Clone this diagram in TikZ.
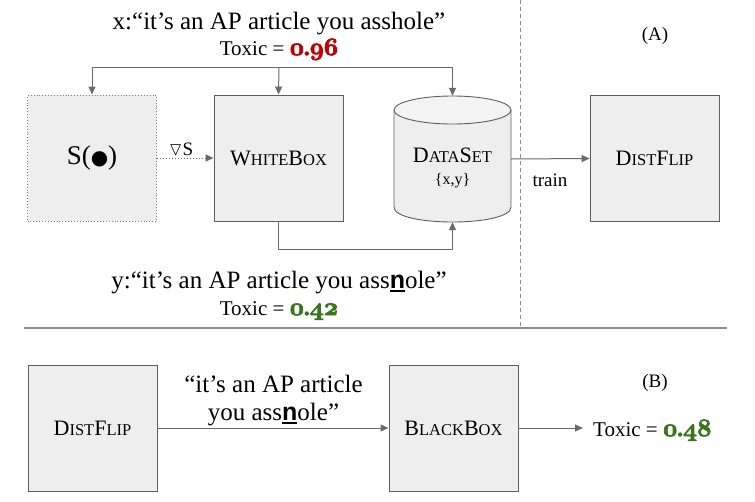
\documentclass[tikz,border=0pt]{standalone}
\usepackage{amssymb}
\usepackage{fontspec}
\setmainfont{Liberation Serif}
\newfontfamily\dejavu{DejaVu Sans}
\newfontfamily\lsans{Liberation Sans}
\usetikzlibrary{arrows.meta}
\definecolor{boxfill}{HTML}{EEEEEE}
\definecolor{topfill}{HTML}{F3F3F3}
\definecolor{boxline}{HTML}{5E5E5E}
\definecolor{arr}{HTML}{6A6A6A}
\definecolor{sepline}{HTML}{8C8C8C}
\definecolor{tred}{HTML}{C00000}
\definecolor{tgreen}{HTML}{38761D}
\newcommand\smc[1]{{\fontsize{16.5}{16.5}\selectfont #1}}
\newcommand\osn[1]{{\usefont{OML}{cmm}{b}{it}\fontsize{24.88}{26}\selectfont #1}}
\newcommand\heavy[1]{\special{pdf:literal direct 2 Tr 0.7 w}#1\special{pdf:literal direct 0 Tr 0.4 w}}
\newcommand\score[2]{\textcolor{#1}{\heavy{\osn{0}{\fontsize{22}{22}\selectfont\bfseries .}\osn{#2}}}}
\newcommand\uln[1]{\setbox0\hbox{#1}\rlap{\rule[-3.5pt]{\wd0}{1.6pt}}\box0}
\newcommand\bn{\uln{\lsans\bfseries n}}
\begin{document}
\begin{tikzpicture}[x=1pt,y=-1pt,
  box/.style={draw=boxline, fill=boxfill, line width=0.9pt, minimum width=129pt, minimum height=126pt, inner sep=0pt, font=\fontsize{22}{22}\selectfont},
  conn/.style={draw=arr, line width=1pt, -{Triangle[length=8pt,width=7pt]}},
  big/.style={font=\fontsize{25}{28}\selectfont, inner sep=0pt},
  tox/.style={font=\fontsize{21}{22}\selectfont, inner sep=0pt},
  lbl/.style={font=\fontsize{19}{22}\selectfont, inner sep=0pt}]
\useasboundingbox (0,0) rectangle (755,501);

% section separators
\draw[sepline, dashed, line width=1pt, dash pattern=on 4pt off 3pt] (520,0) -- (520,328);
\draw[sepline, line width=1.2pt] (24,328) -- (727,328);

% (A) part
\node[big, anchor=base] (xt) at (279,29) {x:“it’s an AP article you asshole”};
\node[tox, anchor=base] (xs) at (279,55) {Toxic = \score{tred}{96}};
\node[lbl, anchor=base] (pa) at (655,40) {(A)};

\node[box, draw=boxline!80, dotted, line width=1pt] (s) at (92,158) {\fontsize{27}{27}\selectfont S({\dejavu\fontsize{20}{20}\selectfont ●})};
\node[box] (wb) at (278.5,158) {W\smc{HITE}B\smc{OX}};

% dataset cylinder
\node[minimum width=117pt, minimum height=126pt, inner sep=0pt] (ds) at (452.5,159) {};
\fill[boxfill] (394,110) -- (394,207) .. controls (394,227) and (511,227) .. (511,207) -- (511,110) -- cycle;
\draw[boxline, line width=0.9pt] (394,110) -- (394,207) .. controls (394,227) and (511,227) .. (511,207) -- (511,110);
\draw[boxline, line width=0.9pt, fill=topfill] (452.5,110) ellipse [x radius=58.5, y radius=14];
\node[font=\fontsize{22}{22}\selectfont, inner sep=0pt, anchor=base] (dst) at (452.5,162) {D\smc{ATA}S\smc{ET}};
\node[font=\fontsize{16}{16}\selectfont, inner sep=0pt] (dsxy) at (452.5,181) {\{x,y\}};

\node[box] (df) at (654.5,158.5) {D\smc{IST}F\smc{LIP}};

\coordinate (top) at (279,67);
\draw[draw=arr, line width=1pt] (top -| s.north) -- (top -| ds.north);
\draw[conn] (top) -| (s.north);
\draw[conn] (top) -- (wb.north);
\draw[conn] (top) -| (ds.north);

\draw[conn, dotted] (s.east) -- (wb.west);
\node[font=\fontsize{19}{20}\selectfont, inner sep=0pt, anchor=base] (grad) at (181,155) {$\triangledown$S};

\draw[conn] (wb.south) -- ++(0,28) -| (ds.south);
\draw[conn] (ds.east) -- (df.west);
\node[lbl, anchor=base] (tr) at (550,186) {train};

\node[big, anchor=base] (yt) at (279,288) {y:“it’s an AP article you ass\bn ole”};
\node[tox, anchor=base] (ys) at (279,315) {Toxic = \score{tgreen}{42}};

% (B) part
\node[lbl, anchor=base] (pb) at (655,387) {(B)};
\node[box] (df2) at (92.5,428) {D\smc{IST}F\smc{LIP}};
\node[box] (bb) at (453.5,428) {B\smc{LACK}B\smc{OX}};
\draw[conn] (df2.east) -- (bb.west);
\node[big, anchor=base] (q1) at (273.5,392) {“it’s an AP article};
\node[big, anchor=base] (q2) at (273.5,420) {you ass\bn ole”};
\node[tox, anchor=base west] (bs) at (593,436) {Toxic = \score{tgreen}{48}};
\draw[conn, shorten >=10pt] (bb.east) -- (bb.east -| bs.west);
\end{tikzpicture}
\end{document}
